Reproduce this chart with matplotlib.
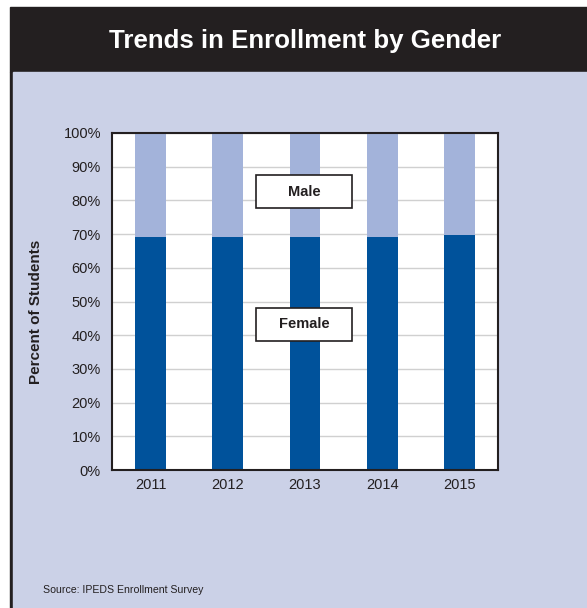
import matplotlib.pyplot as plt
from matplotlib.patches import Rectangle

years = ['2011', '2012', '2013', '2014', '2015']
female = [69.1, 69.1, 69.1, 69.2, 69.8]
male = [100 - f for f in female]

panel_bg = '#cbd1e7'
dark = '#231f20'
c_female = '#00529b'
c_male = '#a3b3da'

plt.rcParams['font.family'] = ['Liberation Sans', 'DejaVu Sans']

W, H = 587, 608
fig = plt.figure(figsize=(W / 100, H / 100), dpi=100)
fig.patch.set_facecolor('white')

# header band and blue panel (drawn under the axes)
fig.patches.append(Rectangle((10 / W, 1 - 72 / H), 1, 65 / H, transform=fig.transFigure, color=dark, zorder=-5))
fig.patches.append(Rectangle((10 / W, 0), 3 / W, 1 - 72 / H, transform=fig.transFigure, color=dark, zorder=-5))
fig.patches.append(Rectangle((13 / W, 0), 1, 1 - 72 / H, transform=fig.transFigure, color=panel_bg, zorder=-5))
fig.text(305.5 / W, 1 - 48 / H, 'Trends in Enrollment by Gender', color='white',
         fontsize=18.6, fontweight='bold', ha='center', va='baseline')

ax = fig.add_axes([112 / W, 1 - 470 / H, (498 - 112) / W, (470 - 133) / H])
ax.set_facecolor('white')
x = range(len(years))
ax.bar(x, female, width=0.4, color=c_female, zorder=2)
ax.bar(x, male, width=0.4, bottom=female, color=c_male, zorder=2)
ax.set_xlim(-0.5, 4.5)
ax.set_ylim(0, 100)
ax.set_yticks(range(0, 101, 10))
ax.set_yticklabels([f'{v}%' for v in range(0, 101, 10)])
ax.set_xticks(list(x))
ax.set_xticklabels(years)
ax.tick_params(length=0, labelsize=10.5, labelcolor=dark, pad=8)
ax.tick_params(axis='x', pad=6)
ax.yaxis.grid(True, color='#d0d0d0', lw=1, zorder=1)
ax.set_axisbelow(True)
for s in ax.spines.values():
    s.set_linewidth(1.5)
    s.set_color(dark)
ax.set_ylabel('Percent of Students', fontsize=11, fontweight='bold', color=dark)
ax.yaxis.set_label_coords(-0.18, 0.469)

# series labels in fixed-size boxes
for lab, y0 in [('Male', 77.7), ('Female', 38.3)]:
    ax.add_patch(Rectangle((1.365, y0), 1.244, 9.8, fc='white', ec=dark, lw=1.2, zorder=4))
    ax.text(1.987, y0 + 4.9, lab, ha='center', va='center', fontsize=10.5, fontweight='bold',
            color=dark, zorder=5)

fig.text(43 / W, 1 - 590 / H, 'Source: IPEDS Enrollment Survey', fontsize=7.6, color=dark, va='center')

fig.savefig('out.png', dpi=100)
